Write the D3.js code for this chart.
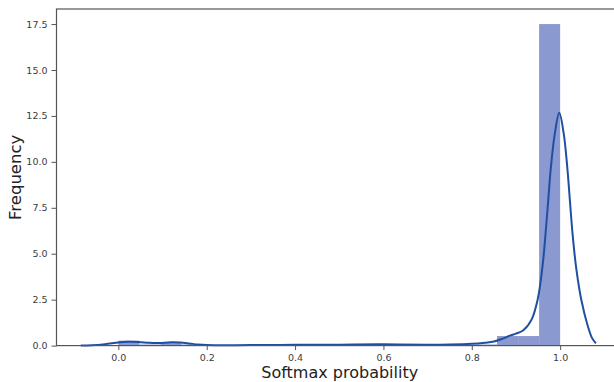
<!DOCTYPE html>
<html>
<head>
<meta charset="utf-8">
<script src="https://cdn.jsdelivr.net/npm/d3@7"></script>
<style>
  html, body { margin: 0; padding: 0; background: #fff; }
  svg { display: block; }
  text { font-family: "DejaVu Sans", sans-serif; }
</style>
</head>
<body>
<svg id="chart" width="614" height="382"></svg>
<script>
// Histogram bins (left edges, width binWidth) and their densities
const binWidth = 1 / 21;
const binStarts = d3.range(21).map(i => i * binWidth);
const binDensity = [0.27, 0.06, 0.16, 0.06, 0.03, 0.03, 0.03, 0.03, 0.03, 0.03,
                    0.03, 0.04, 0.05, 0.04, 0.03, 0.04, 0.05, 0.06, 0.52, 0.52, 17.5];

// Kernel density estimate, sampled along the probability axis
const kdeX = [-0.085, -0.06, -0.03, 0.0, 0.02, 0.045, 0.07, 0.09, 0.12, 0.14, 0.16, 0.18, 0.2, 0.25,
              0.3, 0.4, 0.5, 0.6, 0.7, 0.75, 0.8, 0.83, 0.85, 0.87, 0.886, 0.9, 0.916, 0.935, 0.949,
              0.96, 0.967, 0.973, 0.979, 0.988, 0.998, 1.008, 1.016, 1.022, 1.028, 1.036,
              1.048, 1.063, 1.072, 1.081];
const kdeY = [0.0, 0.02, 0.08, 0.17, 0.21, 0.2, 0.15, 0.14, 0.18, 0.17, 0.12, 0.06, 0.03, 0.02,
              0.03, 0.04, 0.05, 0.07, 0.05, 0.06, 0.1, 0.16, 0.22, 0.38, 0.54, 0.65, 0.82, 1.4, 2.5,
              4.3, 6.1, 7.9, 9.7, 11.55, 12.67, 11.55, 9.74, 7.92, 6.11, 4.29,
              2.48, 1.03, 0.42, 0.12];

const yTicks = [0, 2.5, 5, 7.5, 10, 12.5, 15, 17.5];
const xTicks = [0.0, 0.2, 0.4, 0.6, 0.8, 1.0];

const svg = d3.select("#chart");
const plotLeft = 56.5, plotRight = 622, plotTop = 9, plotBottom = 345.6;

const x = d3.scaleLinear().domain([-0.14, 1.14]).range([plotLeft, plotRight]);
const y = d3.scaleLinear().domain([0, 18.32]).range([plotBottom, plotTop]);

// bars
svg.append("g").selectAll("rect")
  .data(binStarts.map((s, i) => ({ s, v: binDensity[i] })))
  .join("rect")
  .attr("x", d => x(d.s))
  .attr("width", d => x(d.s + binWidth) - x(d.s))
  .attr("y", d => y(d.v))
  .attr("height", d => y(0) - y(d.v))
  .attr("fill", "#8a99cf");

// density curve
const line = d3.line()
  .x((d, i) => x(kdeX[i]))
  .y(d => y(d))
  .curve(d3.curveCatmullRom.alpha(0.5));
svg.append("path")
  .datum(kdeY)
  .attr("d", line)
  .attr("fill", "none")
  .attr("stroke", "#1f4fa3")
  .attr("stroke-width", 2);

// axes
const yAxis = d3.axisLeft(y).tickValues(yTicks).tickFormat(d3.format(".1f"))
  .tickSize(5).tickPadding(4);
const xAxis = d3.axisBottom(x).tickValues(xTicks).tickFormat(d3.format(".1f"))
  .tickSize(4.5).tickPadding(4);

const gy = svg.append("g").attr("transform", `translate(${plotLeft},0)`).call(yAxis);
const gx = svg.append("g").attr("transform", `translate(0,${plotBottom})`).call(xAxis);
[gx, gy].forEach(g => {
  g.select(".domain").remove();
  g.selectAll(".tick line").attr("stroke", "#555");
  g.selectAll(".tick text").attr("fill", "#3c3c3c").style("font-size", "9.5px");
});

// frame
svg.append("rect")
  .attr("x", plotLeft).attr("y", plotTop)
  .attr("width", plotRight - plotLeft).attr("height", plotBottom - plotTop)
  .attr("fill", "none").attr("stroke", "#555").attr("stroke-width", 1.2);

// axis titles
svg.append("text")
  .attr("x", (x(0) + x(1)) / 2 + 0.5).attr("y", 378)
  .attr("text-anchor", "middle")
  .attr("fill", "#222").style("font-size", "16px")
  .text("Softmax probability");
svg.append("text")
  .attr("transform", `translate(21,${(plotTop + plotBottom) / 2}) rotate(-90)`)
  .attr("text-anchor", "middle")
  .attr("fill", "#222").style("font-size", "16.5px")
  .text("Frequency");
</script>
</body>
</html>
